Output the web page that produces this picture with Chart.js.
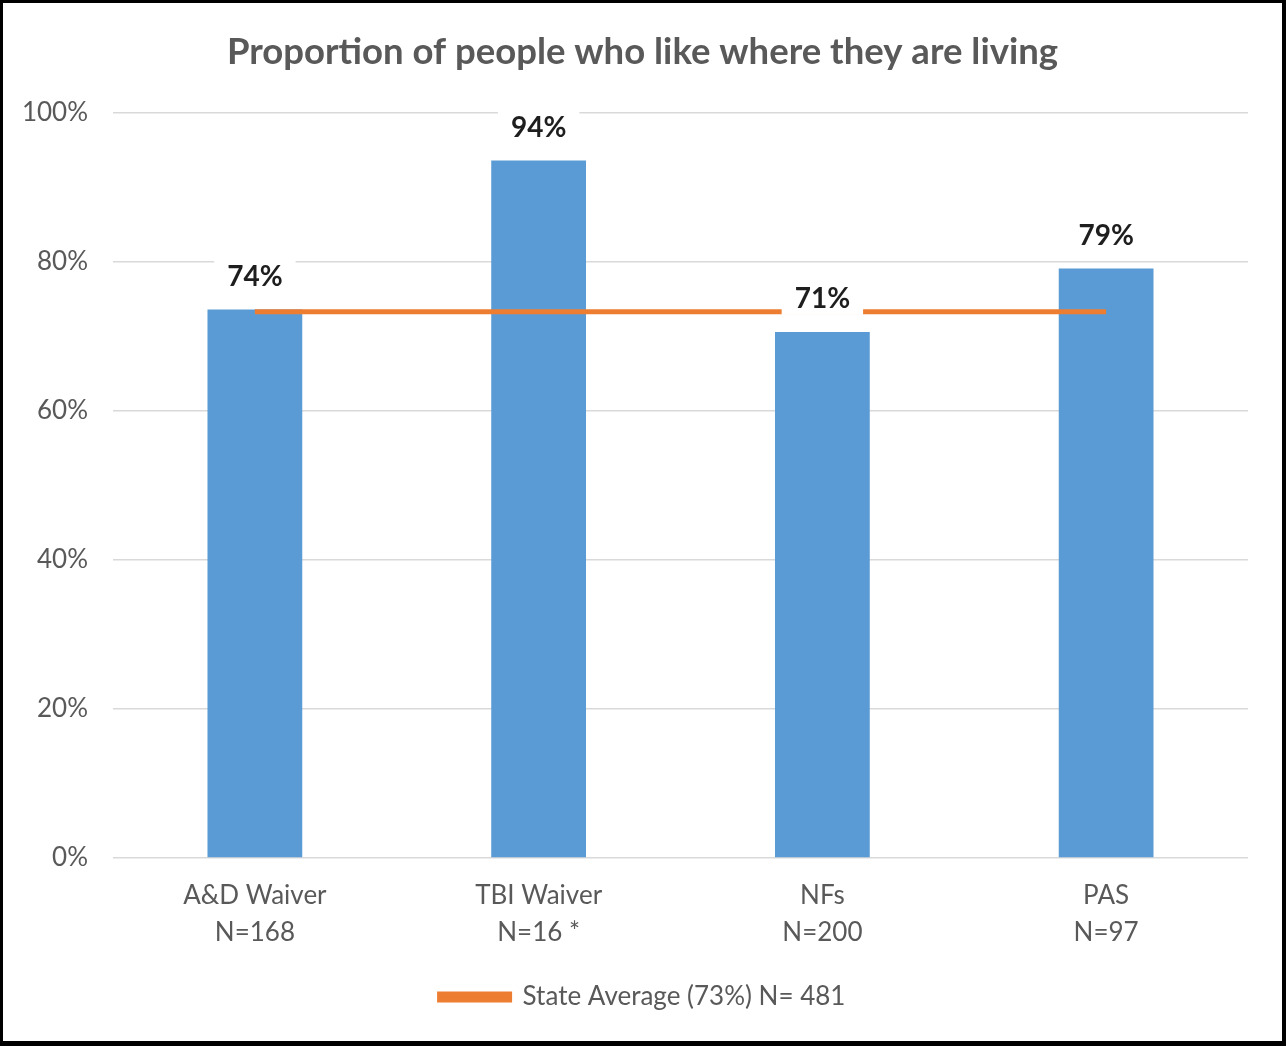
<!DOCTYPE html>
<html>
<head>
<meta charset="utf-8">
<script src="https://cdn.jsdelivr.net/npm/chart.js@4/dist/chart.umd.min.js"></script>
<style>
  html, body { margin: 0; padding: 0; background: #fff; }
  #wrap {
    width: 1286px; height: 1046px; box-sizing: border-box;
    border-style: solid; border-color: #000;
    border-width: 3px 4px 5px 3px;
  }
  #myChart { display: block; }
</style>
</head>
<body>
<div id="wrap"><canvas id="myChart" width="1279" height="1038"></canvas></div>
<script>
// categories (two-line tick labels)
const categories = [
    ['A&D Waiver', 'N=168'],
    ['TBI Waiver', 'N=16 *'],
    ['NFs', 'N=200'],
    ['PAS', 'N=97']
];
// share of people who like where they live, per program
const likeValues = [73.6, 93.6, 70.6, 79.1];
// state average, drawn across all programs
const stateAverage = [73.3, 73.3, 73.3, 73.3];
const averageLabel = 'State Average (73%) N= 481';
const yTicks = [0, 20, 40, 60, 80, 100];

const GRAY = '#595959';
const BLUE = '#5B9BD5';
const ORANGE = '#ED7D31';
const FONT = 'Lato, "Open Sans", sans-serif';

// labels above the bars, with a white box that hides grid and average line
const barLabels = {
    id: 'barLabels',
    afterDatasetsDraw(chart) {
        const ctx = chart.ctx;
        const meta = chart.getDatasetMeta(0);
        ctx.save();
        ctx.font = 'bold 28px ' + FONT;
        ctx.textAlign = 'center';
        ctx.textBaseline = 'middle';
        meta.data.forEach((bar, i) => {
            const txt = Math.round(likeValues[i]) + '%';
            const w = ctx.measureText(txt).width + 26;
            const y = bar.y - 34;
            ctx.fillStyle = '#fff';
            ctx.fillRect(bar.x - w / 2, y - 17, w, 34);
            ctx.fillStyle = '#1e1e1e';
            ctx.fillText(txt, bar.x, y + 1);
        });
        ctx.restore();
    }
};

const data = {
    labels: categories,
    datasets: [{
        type: 'bar',
        label: 'Like where they live',
        data: likeValues,
        backgroundColor: BLUE,
        categoryPercentage: 1,
        barPercentage: 0.334,
        order: 2
    }, {
        type: 'line',
        label: averageLabel,
        data: stateAverage,
        borderColor: ORANGE,
        backgroundColor: ORANGE,
        borderWidth: 5,
        pointRadius: 0,
        order: 1
    }]
};

const config = {
    data: data,
    options: {
        responsive: false,
        animation: false,
        layout: { padding: { top: 0, right: 0, bottom: 21, left: 0 } },
        scales: {
            x: {
                grid: { display: false, drawTicks: false },
                border: { display: false },
                ticks: {
                    color: GRAY,
                    padding: 19,
                    font: { family: FONT, size: 26, lineHeight: 1.42 }
                },
                afterFit(scale) { scale.height = 116; }
            },
            y: {
                min: 0,
                max: 100,
                grid: { color: '#d9d9d9', lineWidth: 1.5, drawTicks: false },
                border: { display: false },
                afterBuildTicks(scale) { scale.ticks = yTicks.map(v => ({ value: v })); },
                ticks: {
                    color: GRAY,
                    padding: 25,
                    font: { family: FONT, size: 26 },
                    callback: v => v + '%'
                },
                afterFit(scale) { scale.width = 110; }
            },
            // empty right-hand margin so title and legend stay centred on the canvas
            yRight: {
                position: 'right',
                min: 0,
                max: 100,
                grid: { display: false, drawTicks: false },
                border: { display: false },
                ticks: { display: false },
                afterFit(scale) { scale.width = 34; }
            }
        },
        plugins: {
            title: {
                display: true,
                text: 'Proportion of people who like where they are living',
                color: GRAY,
                font: { family: FONT, size: 36.5, weight: 'bold' },
                padding: { top: 27, bottom: 39 }
            },
            legend: {
                position: 'bottom',
                labels: {
                    color: GRAY,
                    boxWidth: 70,
                    boxHeight: 6,
                    font: { family: FONT, size: 26 },
                    filter: item => item.datasetIndex === 1
                }
            },
            tooltip: { enabled: false }
        }
    },
    plugins: [barLabels]
};

const myChart = new Chart(document.getElementById('myChart'), config);
</script>
</body>
</html>
